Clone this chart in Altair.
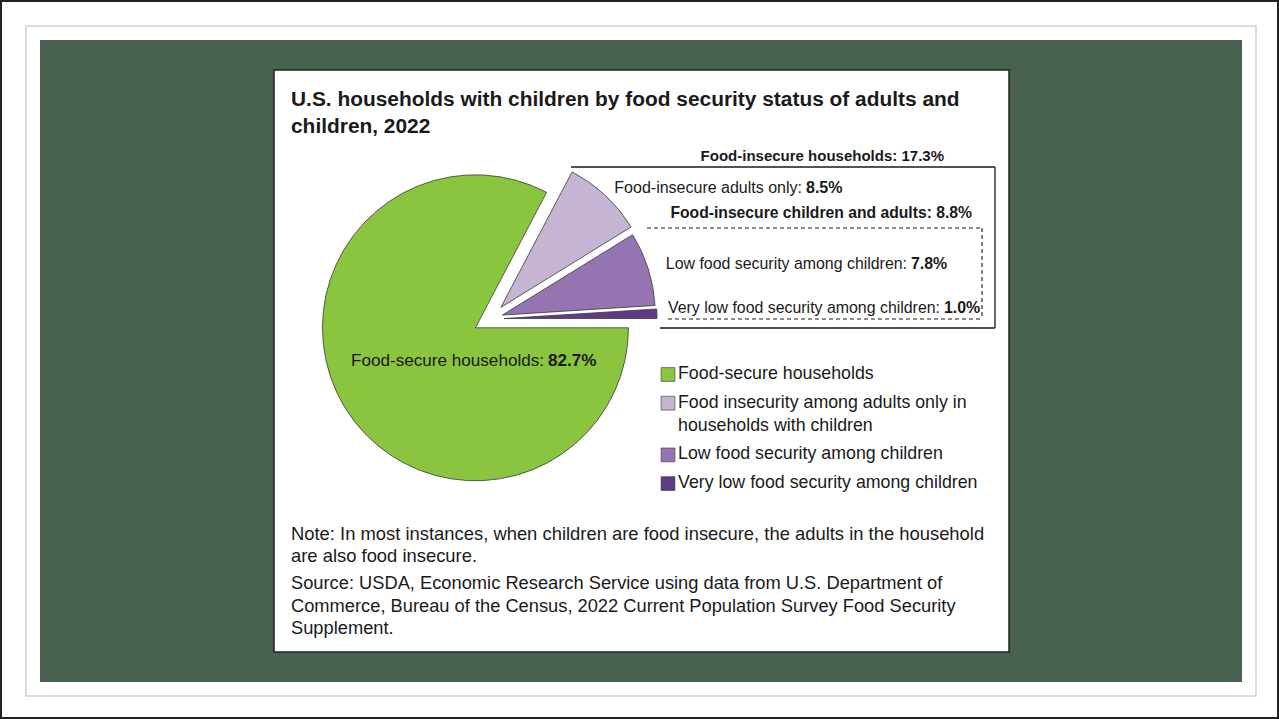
import math
import altair as alt
import pandas as pd

# ---------------- data ----------------
categories = [
    "Food-secure households",
    "Food insecurity among adults only in households with children",
    "Low food security among children",
    "Very low food security among children",
]
legend_lines = [
    ["Food-secure households"],
    ["Food insecurity among adults only in", "households with children"],
    ["Low food security among children"],
    ["Very low food security among children"],
]
shares = [82.7, 8.5, 7.8, 1.0]
colors = ["#8bc53f", "#c6b4d3", "#9474b1", "#5d3c85"]

title_lines = [
    "U.S. households with children by food security status of adults and",
    "children, 2022",
]
note_lines = [
    "Note: In most instances, when children are food insecure, the adults in the household",
    "are also food insecure.",
]
source_lines = [
    "Source: USDA, Economic Research Service using data from U.S. Department of",
    "Commerce, Bureau of the Census, 2022 Current Population Survey Food Security",
    "Supplement.",
]

# ---------------- style / layout ----------------
W, H = 1279, 719
CX, CY, R = 490, 319, 153
explode = [17, 16, 13, 14]
FONT = "Liberation Sans, Arial, sans-serif"
INK = "#1a1a1a"

# pie geometry derived from the shares
rows = []
start = math.pi / 2
total = sum(shares)
for cat, v, e in zip(categories, shares, explode):
    end = start + 2 * math.pi * v / total
    mid = (start + end) / 2
    rows.append({
        "cat": cat, "share": v, "start": start, "end": end,
        "px": CX + e * math.sin(mid), "py": CY - e * math.cos(mid),
    })
    start = end
pie_df = pd.DataFrame(rows)

color_scale = alt.Scale(domain=categories, range=colors)

one = alt.Chart(pd.DataFrame({"a": [0]}))


def box(x1, y1, x2, y2, **kw):
    return one.mark_rect(**kw).encode(
        x=alt.value(x1), x2=alt.value(x2), y=alt.value(y1), y2=alt.value(y2))


def rule(x1, y1, x2, y2, dash=None, width=1.3):
    kw = dict(color=INK, strokeWidth=width)
    if dash:
        kw["strokeDash"] = dash
    return one.mark_rule(**kw).encode(
        x=alt.value(x1), x2=alt.value(x2), y=alt.value(y1), y2=alt.value(y2))


def txt(s, x, y, size=16, weight="normal", align="left", lh=None):
    kw = dict(font=FONT, fontSize=size, fontWeight=weight, align=align,
              baseline="alphabetic", color=INK)
    if lh:
        kw["lineBreak"] = "\n"
        kw["lineHeight"] = lh
    return one.mark_text(**kw).encode(
        x=alt.value(x), y=alt.value(y), text=alt.value(s))


layers = []
# frames and background
layers.append(box(1, 1, W - 1, H - 1, fill="white", stroke="#222", strokeWidth=2))
layers.append(box(26, 26, 1256, 696, fill="white", stroke="#cfcfcf", strokeWidth=1.5))
layers.append(box(40, 40, 1242, 682, fill="#47604f"))
layers.append(box(274, 70, 1009, 652, fill="white", stroke="#222", strokeWidth=1.5))

# pie
pie = alt.Chart(pie_df).mark_arc(outerRadius=R, stroke="#3a3a3a", strokeWidth=0.8).encode(
    theta=alt.Theta("start:Q", scale=None, stack=None),
    theta2=alt.Theta2("end:Q"),
    x=alt.X("px:Q", scale=None, axis=None),
    y=alt.Y("py:Q", scale=None, axis=None),
    color=alt.Color("cat:N", scale=color_scale, legend=None),
)
layers.append(pie)

# title
layers.append(txt("\n".join(title_lines), 291, 106, size=20.9, weight="bold", lh=27))

# bracket frames
layers += [
    rule(571, 167, 995, 167), rule(995, 167, 995, 328), rule(660, 328, 995, 328),
    rule(647, 228, 982, 228, dash=[4, 3], width=1.1),
    rule(982, 228, 982, 319, dash=[4, 3], width=1.1),
    rule(668, 319, 982, 319, dash=[4, 3], width=1.1),
]

insecure = sum(shares[1:])
child = sum(shares[2:])
layers.append(txt(f"Food-insecure households: {insecure:.1f}%", 944, 161,
                  size=15, weight="bold", align="right"))
layers.append(txt("Food-insecure adults only:", 802, 193, size=16, align="right"))
layers.append(txt(f"{shares[1]:.1f}%", 806, 193, size=16, weight="bold"))
layers.append(txt(f"Food-insecure children and adults: {child:.1f}%", 972, 218,
                  size=15.7, weight="bold", align="right"))
layers.append(txt("Low food security among children:", 907, 269, size=15.9, align="right"))
layers.append(txt(f"{shares[2]:.1f}%", 911, 269, size=15.9, weight="bold"))
layers.append(txt("Very low food security among children:", 940, 313, size=15.9, align="right"))
layers.append(txt(f"{shares[3]:.1f}%", 944, 313, size=15.9, weight="bold"))
layers.append(txt("Food-secure households:", 544, 366, size=17.1, align="right"))
layers.append(txt(f"{shares[0]:.1f}%", 548, 366, size=17.1, weight="bold"))

# legend
leg_rows = []
y = 379
for cat, lines in zip(categories, legend_lines):
    leg_rows.append({"cat": cat, "sy": y - 4.5, "ty": y, "label": "\n".join(lines)})
    y += 28.7 + 23 * (len(lines) - 1)
leg_df = pd.DataFrame(leg_rows)
leg_sq = alt.Chart(leg_df).mark_square(size=190, opacity=1, stroke="#333", strokeWidth=0.6).encode(
    x=alt.value(668),
    y=alt.Y("sy:Q", scale=None, axis=None),
    color=alt.Color("cat:N", scale=color_scale, legend=None),
)
leg_tx = alt.Chart(leg_df).mark_text(
    font=FONT, fontSize=17.8, align="left", baseline="alphabetic", color=INK,
    lineBreak="\n", lineHeight=23,
).encode(x=alt.value(678), y=alt.Y("ty:Q", scale=None, axis=None), text="label:N")
layers += [leg_sq, leg_tx]

# note and source
layers.append(txt("\n".join(note_lines), 291, 540, size=18.4, lh=22))
layers.append(txt("\n".join(source_lines), 291, 589, size=18.3, lh=22.5))

chart = alt.layer(*layers).properties(
    width=W, height=H, padding=0, autosize=alt.AutoSizeParams(type="none"),
    background="white",
).configure_view(strokeWidth=0)

chart.save("out.html", embed_options={"renderer": "svg", "actions": False})
